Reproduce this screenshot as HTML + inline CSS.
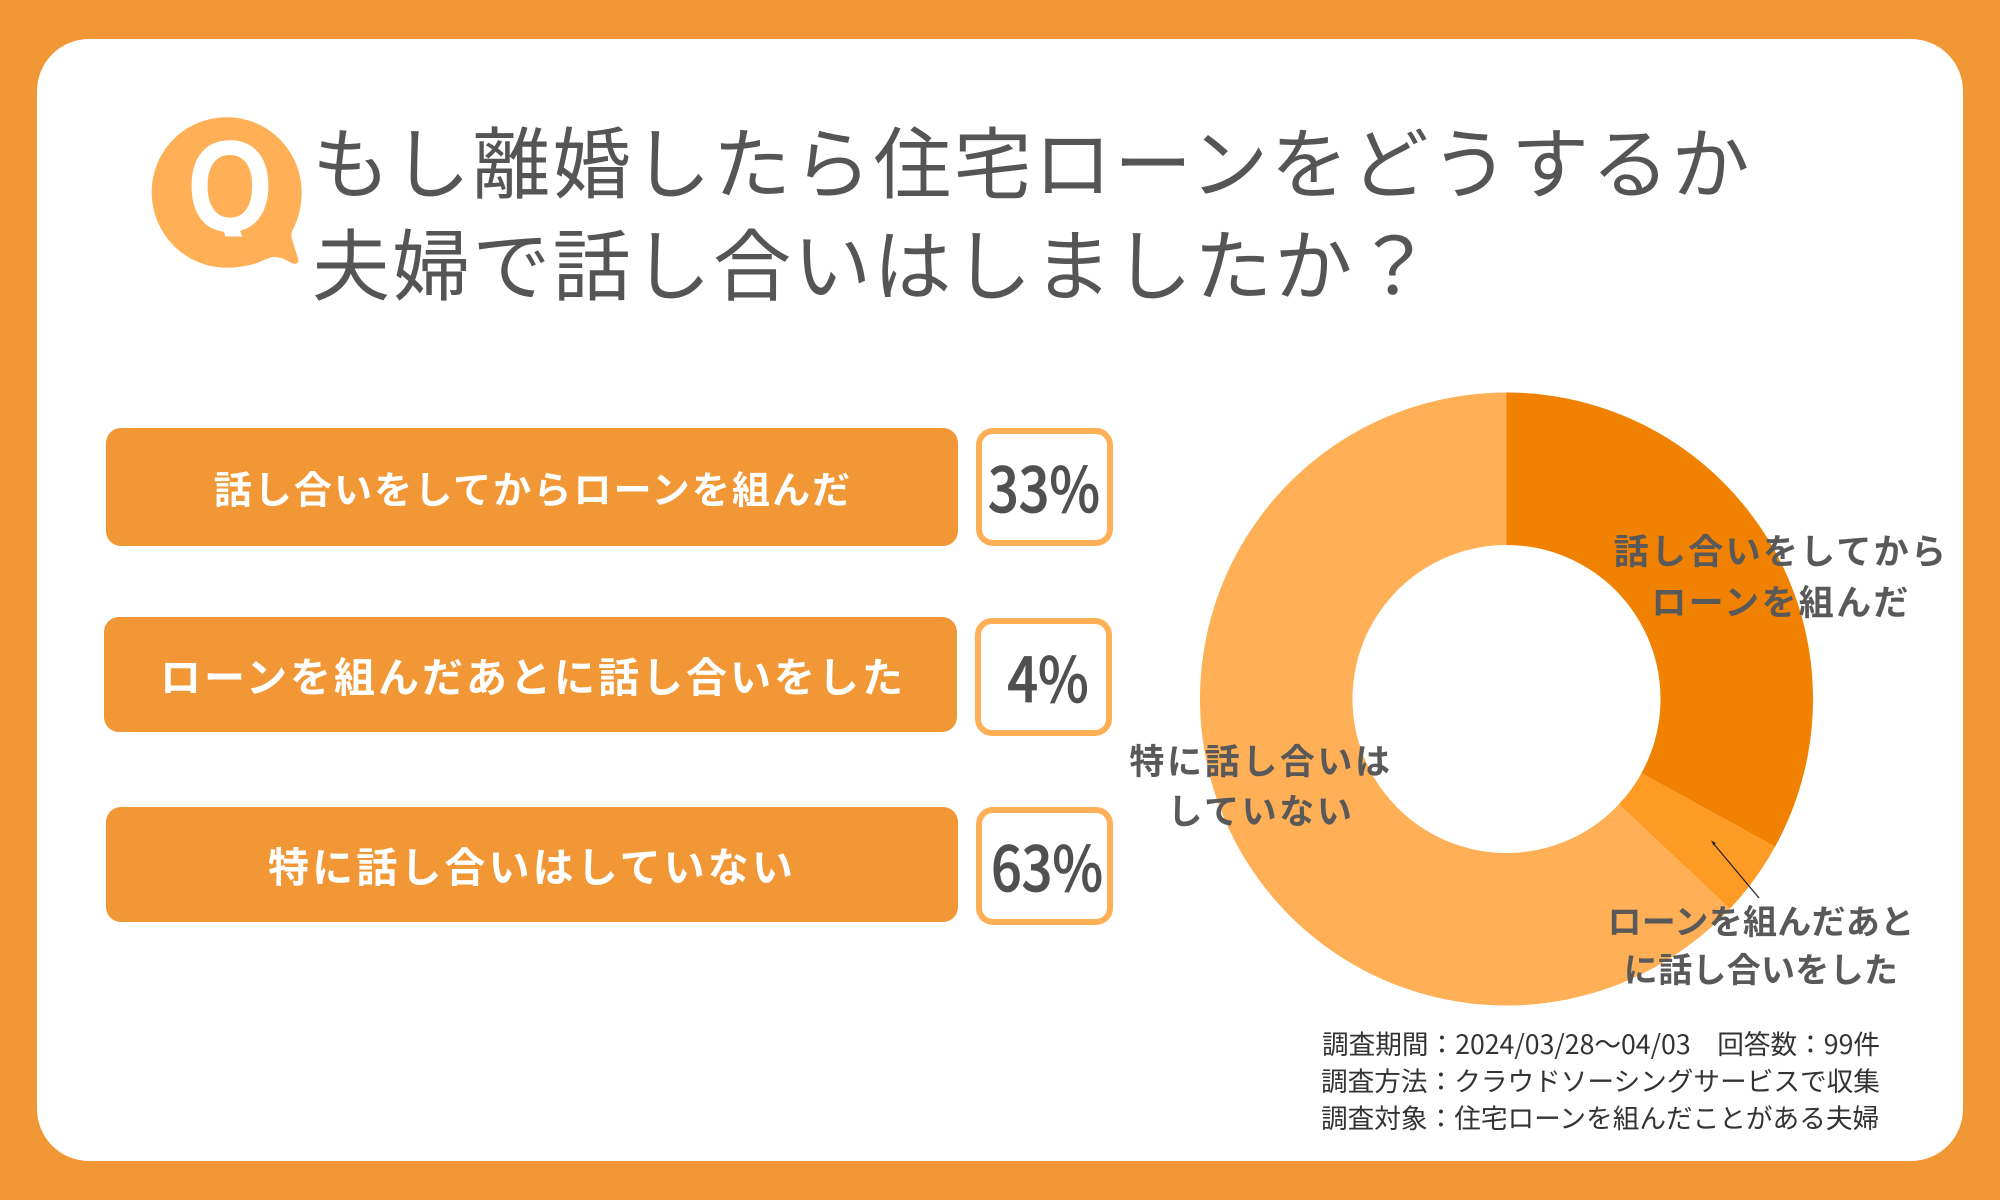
<!DOCTYPE html>
<html lang="ja">
<head>
<meta charset="utf-8">
<title>もし離婚したら住宅ローンをどうするか</title>
<style>
html,body{margin:0;padding:0;width:2000px;height:1200px;overflow:hidden;background:#F29736;}
svg{display:block;font-family:"Liberation Sans","Noto Sans CJK JP",sans-serif;}
text{font-family:"Noto Sans CJK JP","Liberation Sans",sans-serif;}
</style>
</head>
<body>
<svg id="chart" width="2000" height="1200" viewBox="0 0 2000 1200" xmlns="http://www.w3.org/2000/svg">
  <defs>
    <clipPath id="q-clip"><rect x="170" y="120" width="120" height="116.500"/></clipPath>
  </defs>
  <rect x="0" y="0" width="2000" height="1200" fill="#F29736"/>
  <rect x="37" y="39" width="1926" height="1122" rx="52" ry="52" fill="#FFFFFF"/>

  <g>
    <path fill="#FFB057" d="M226.700 117.200 C268 117.200 301.700 150.800 301.700 192.200 C301.700 205 299 216 294.300 226.700 C291.500 231.500 291 235 291.700 238 L298.300 259.500 C298.800 262.500 296.500 264.500 294 263.800 C288 262 285 258 276 257 C266 256 258 267.700 226.700 267.700 C185 267.700 151.700 233.600 151.700 192.200 C151.700 150.800 185 117.200 226.700 117.200 Z"/>
    <g clip-path="url(#q-clip)">
      <text transform="translate(230 231) scale(0.85 1)" text-anchor="middle" font-size="130" font-weight="700" fill="#FFFFFF" style="font-family:'Liberation Sans',sans-serif">Q</text>
    </g>
  </g>

  <text x="312" y="192" font-size="78" fill="#555555" letter-spacing="2.2">もし離婚したら住宅ローンをどうするか</text>
  <text x="312" y="294" font-size="78" fill="#555555" letter-spacing="2.2">夫婦で話し合いはしましたか？</text>

  <g id="bars"></g>
  <g id="donut"></g>
  <g id="labels"></g>

  <line x1="1759" y1="898" x2="1713" y2="843" stroke="#222222" stroke-width="1.2"/>
  <polygon points="1711,840.500 1716,843 1713.500,845.500" fill="#222222"/>

  <g font-size="26.65" fill="#333333">
    <text x="1322" y="1054">調査期間：2024/03/28～04/03　回答数：99件</text>
    <text x="1321" y="1091">調査方法：クラウドソーシングサービスで収集</text>
    <text x="1321" y="1128">調査対象：住宅ローンを組んだことがある夫婦</text>
  </g>
</svg>
<script>
var answers = ['話し合いをしてからローンを組んだ', 'ローンを組んだあとに話し合いをした', '特に話し合いはしていない'];
var shares = [33, 4, 63];
var sliceLabels = [['話し合いをしてから', 'ローンを組んだ'], ['ローンを組んだあと', 'に話し合いをした'], ['特に話し合いは', 'していない']];

var NS = 'http://www.w3.org/2000/svg';
var sliceColors = ['#F18101', '#FE9B25', '#FFB057'];
var CX = 1506.5, CY = 699, R_OUT = 306.5, R_IN = 154;
var barBoxes = [{x:106,y:428,h:118,tx:533,fs:38,ls:2.1,by:428,bh:118,bx:976,px:1044},
                {x:104,y:617,h:115,tx:533,fs:41,ls:3,by:618,bh:118,bx:975,px:1048},
                {x:106,y:807,h:115,tx:532,fs:41,ls:3.1,by:807,bh:118,bx:976,px:1047}];
var labelPlace = [{x:1781,y:[564,615],fs:35,ls:2.3},{x:1761,y:[934,982],fs:34,ls:0.3},{x:1261,y:[774,824],fs:35,ls:2.6}];
var barRights = [958, 957, 958];

function angleOf(cum){ return cum / 100 * 2 * Math.PI; }
function px(r, a){ return CX + r * Math.sin(a); }
function py(r, a){ return CY - r * Math.cos(a); }

var donut = document.getElementById('donut');
var bars = document.getElementById('bars');
var labels = document.getElementById('labels');
var total = shares.reduce(function(a,b){return a+b;},0);
var cum = 0;
shares.forEach(function(v, i){
  var a0 = angleOf(cum / total * 100);
  cum += v;
  var a1 = angleOf(cum / total * 100);
  var large = (a1 - a0) > Math.PI ? 1 : 0;
  var p = document.createElementNS(NS, 'path');
  p.setAttribute('d', 'M' + px(R_OUT,a0) + ' ' + py(R_OUT,a0) +
    ' A' + R_OUT + ' ' + R_OUT + ' 0 ' + large + ' 1 ' + px(R_OUT,a1) + ' ' + py(R_OUT,a1) +
    ' L' + px(R_IN,a1) + ' ' + py(R_IN,a1) +
    ' A' + R_IN + ' ' + R_IN + ' 0 ' + large + ' 0 ' + px(R_IN,a0) + ' ' + py(R_IN,a0) + ' Z');
  p.setAttribute('fill', sliceColors[i]);
  
  
  donut.appendChild(p);

  var b = barBoxes[i];
  var r = document.createElementNS(NS, 'rect');
  r.setAttribute('x', b.x);
  r.setAttribute('y', b.y);
  r.setAttribute('width', barRights[i] - b.x);
  r.setAttribute('height', b.h);
  r.setAttribute('rx', 15);
  r.setAttribute('fill', '#F29736');
  
  
  bars.appendChild(r);

  var t = document.createElementNS(NS, 'text');
  t.setAttribute('x', b.tx);
  t.setAttribute('y', b.y + b.h / 2 + b.fs * 0.35 + 3);
  t.setAttribute('text-anchor', 'middle');
  t.setAttribute('font-size', b.fs);
  t.setAttribute('font-weight', '700');
  t.setAttribute('letter-spacing', b.ls);
  t.setAttribute('fill', '#FFFFFF');
  
  
  t.textContent = answers[i];
  bars.appendChild(t);

  var box = document.createElementNS(NS, 'rect');
  box.setAttribute('x', b.bx + 3);
  box.setAttribute('y', b.by + 3);
  box.setAttribute('width', 131);
  box.setAttribute('height', b.bh - 6);
  box.setAttribute('rx', 14);
  box.setAttribute('fill', '#FFFFFF');
  box.setAttribute('stroke', '#FFB057');
  box.setAttribute('stroke-width', 6);
  
  
  bars.appendChild(box);

  var pct = document.createElementNS(NS, 'text');
  pct.setAttribute('transform', 'translate(' + b.px + ' ' + (b.by + 84) + ') scale(0.87 1)');
  pct.setAttribute('text-anchor', 'middle');
  pct.setAttribute('font-size', 62);
  pct.setAttribute('font-weight', '500');
  pct.setAttribute('fill', '#505050');
  pct.setAttribute('stroke', '#505050');
  pct.setAttribute('stroke-width', 0.8);
  
  
  pct.textContent = v + '%';
  bars.appendChild(pct);

  var lp = labelPlace[i];
  sliceLabels[i].forEach(function(line, j){
    var s = document.createElementNS(NS, 'text');
    s.setAttribute('x', lp.x);
    s.setAttribute('y', lp.y[j]);
    s.setAttribute('text-anchor', 'middle');
    s.setAttribute('font-size', lp.fs);
    s.setAttribute('font-weight', '700');
    s.setAttribute('letter-spacing', lp.ls);
    s.setAttribute('fill', '#595959');
    
    
    s.textContent = line;
    labels.appendChild(s);
  });
});
</script>
</body>
</html>
